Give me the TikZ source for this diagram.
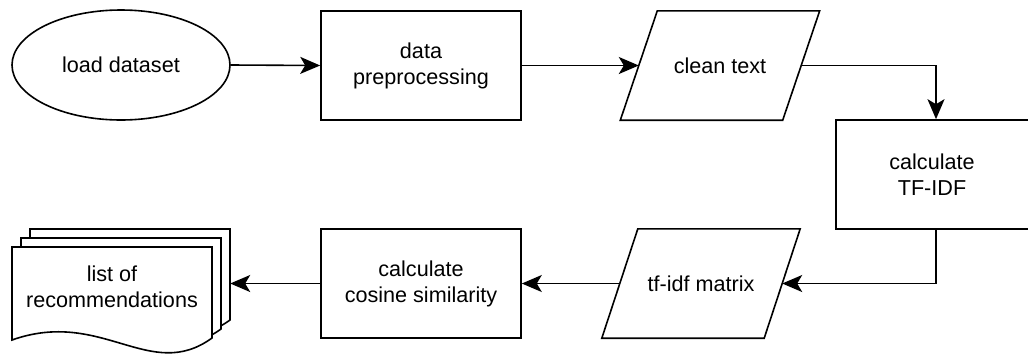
\documentclass[tikz,border=0pt]{standalone}
\usepackage{fontspec}
\setmainfont{Liberation Sans}
\usetikzlibrary{shapes.geometric,arrows.meta}
\begin{document}
\begin{tikzpicture}[x=1pt,y=-1pt,
  lw/.style={line width=1.6pt},
  box/.style={draw,lw,rectangle,minimum width=200pt,minimum height=109pt,inner sep=0pt,align=center,font=\fontsize{21.6pt}{26pt}\selectfont},
  io/.style={rectangle,minimum width=162pt,minimum height=109pt,inner sep=0pt,align=center,font=\fontsize{21.6pt}{26pt}\selectfont},
  term/.style={draw,lw,ellipse,minimum width=218pt,minimum height=110pt,inner sep=0pt,align=center,font=\fontsize{21.6pt}{26pt}\selectfont},
  conn/.style={lw,arrows={-Stealth[length=20pt,width=17pt,inset=5pt]}},
  para/.style={draw,lw,line join=miter,fill=white},
  docshape/.style={draw,lw,fill=white,line join=miter}
]
\useasboundingbox (0,0) rectangle (1028,354);
\clip (0,0) rectangle (1028,354);

% load dataset
\node[term] (load) at (121,65) {load dataset};
% data preprocessing
\node[box] (prep) at (421,65.5) {data\\preprocessing};
% clean text (parallelogram)
\node[io] (clean) at (720,65.5) {};
\draw[para] ([xshift=18.5pt]clean.north west) -- ([xshift=18.5pt]clean.north east)
  -- ([xshift=-18.5pt]clean.south east) -- ([xshift=-18.5pt]clean.south west) -- cycle;
\node[font=\fontsize{21.6pt}{26pt}\selectfont] (cleantxt) at (clean.center) {clean text};
% calculate TF-IDF
\node[box] (tfidf) at (936,174.5) {};
\node[align=center,font=\fontsize{21.6pt}{26pt}\selectfont] (tfidftxt) at (932,174.5) {calculate\\TF-IDF};
% tf-idf matrix (parallelogram)
\node[io] (matrix) at (701,283.5) {};
\draw[para] ([xshift=18pt]matrix.north west) -- ([xshift=18pt]matrix.north east)
  -- ([xshift=-18pt]matrix.south east) -- ([xshift=-18pt]matrix.south west) -- cycle;
\node[font=\fontsize{21.6pt}{26pt}\selectfont] (matrixtxt) at (matrix.center) {tf-idf matrix};
% calculate cosine similarity
\node[box] (cos) at (421,283.5) {calculate\\cosine similarity};

% stacked documents
\coordinate (d3) at (30,229);
\coordinate (d2) at (21,238);
\coordinate (d1) at (12,247);
\foreach \d in {d3,d2,d1}{
  \draw[docshape] (\d) -- ++(200,0) -- ++(0,91)
    .. controls ++(-62,45) and ++(90,-32) .. ++(-200,2) -- cycle;
}
\node[rectangle,minimum width=218pt,minimum height=123pt,inner sep=0pt] (docs) at (121,290.5) {};
\node[align=center,font=\fontsize{21.6pt}{26pt}\selectfont] (doctxt) at (112,287) {list of\\recommendations};

% connectors
\draw[conn] (load.east) -- (prep.west);
\draw[conn] (prep.east) -- (clean.west);
\draw[conn] (clean.east) -| (tfidf.north);
\draw[conn] (tfidf.south) |- (matrix.east);
\draw[conn] (matrix.west) -- (cos.east);
\draw[conn] (cos.west) -- (cos.west -| docs.east);
\end{tikzpicture}
\end{document}
